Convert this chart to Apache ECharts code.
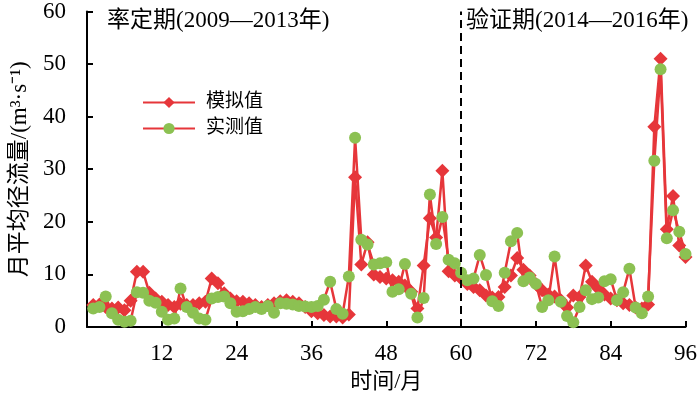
<!DOCTYPE html>
<html>
<head>
<meta charset="utf-8">
<script src="https://cdn.jsdelivr.net/npm/echarts/dist/echarts.min.js"></script>
<style>
html,body{margin:0;padding:0;background:#fff;}
#chart{width:700px;height:398px;}
</style>
</head>
<body>
<div id="chart"></div>
<script>
const months = [1,2,3,4,5,6,7,8,9,10,11,12,13,14,15,16,17,18,19,20,21,22,23,24,
  25,26,27,28,29,30,31,32,33,34,35,36,37,38,39,40,41,42,43,44,45,46,47,48,
  49,50,51,52,53,54,55,56,57,58,59,60,61,62,63,64,65,66,67,68,69,70,71,72,
  73,74,75,76,77,78,79,80,81,82,83,84,85,86,87,88,89,90,91,92,93,94,95,96];

const simulated = [4.2,4.3,3.8,3.5,3.7,3.2,5.0,10.5,10.5,6.5,5.4,4.8,4.2,3.8,4.4,4.2,
  4.2,4.5,4.8,9.2,8.3,6.4,5.4,4.9,4.8,4.5,4.2,3.8,4.2,4.5,4.9,5.1,
  4.8,4.5,3.8,3.0,2.6,2.3,2.0,2.0,1.8,2.4,28.5,11.9,16.1,10.0,9.5,9.2,
  8.9,8.6,7.9,6.7,3.5,11.7,20.7,17.0,29.7,10.6,9.8,9.2,8.2,7.6,7.0,6.0,
  5.6,5.7,7.6,9.8,13.1,10.9,9.8,8.2,7.0,6.2,5.8,5.1,3.7,6.0,5.7,11.7,
  8.6,7.3,6.2,5.4,5.1,4.5,4.2,3.7,3.5,4.3,38.1,51.0,18.6,24.9,15.5,13.3];

const observed = [3.5,3.8,5.8,2.6,1.4,1.0,1.2,6.6,6.5,5.0,4.6,2.9,1.4,1.6,7.3,3.8,
  2.7,1.6,1.4,5.4,5.7,5.8,4.5,2.9,3.0,3.4,3.8,3.4,4.0,2.7,4.5,4.4,
  4.3,4.0,3.9,3.8,4.0,5.2,8.6,3.4,2.5,9.6,36.0,16.6,15.7,11.9,12.1,12.3,
  6.7,7.2,12.0,6.3,1.8,5.5,25.2,15.8,20.9,12.8,12.1,10.3,8.9,9.2,13.7,9.9,
  4.9,4.0,10.3,16.3,17.9,8.7,9.4,8.2,3.8,5.1,13.4,4.8,2.1,0.9,3.8,7.0,
  5.3,5.6,8.7,9.1,5.1,6.6,11.1,3.7,2.6,5.8,31.6,49.0,16.9,22.2,18.1,13.9];

const xTicks = [12,24,36,48,60,72,84,96];
const yTicks = [0,10,20,30,40,50,60];
const seriesNames = ['模拟值','实测值'];
const splitMonth = 60;
const periodLabels = ['率定期(2009—2013年)','验证期(2014—2016年)'];
const xName = '时间/月';
const yName = '月平均径流量/(m³·s⁻¹)';

const RED = '#e6363a';
const GREEN = '#8cc152';
const serif = '"Liberation Serif","Noto Sans CJK SC",serif';

const chart = echarts.init(document.getElementById('chart'), null, {renderer:'canvas'});
const pair = arr => months.map((m,i)=>[m, arr[i]]);

chart.setOption({
  animation:false,
  backgroundColor:'#fff',
  grid:{left:86,right:14,top:9,bottom:71,containLabel:false},
  legend:{
    orient:'vertical', left:137, top:88, itemWidth:52, itemHeight:14, itemGap:7,
    data:seriesNames,
    textStyle:{fontFamily:serif,fontSize:19,color:'#000',padding:[0,0,0,6]}
  },
  xAxis:{
    type:'value', min:0, max:xTicks[xTicks.length-1], interval:12,
    name:xName, nameLocation:'middle', nameGap:44,
    nameTextStyle:{fontFamily:serif,fontSize:22,color:'#000'},
    axisLine:{lineStyle:{color:'#000',width:2}},
    axisTick:{inside:true,length:6,lineStyle:{color:'#000',width:2}},
    axisLabel:{fontFamily:serif,fontSize:23,color:'#000',margin:15,
      formatter:v=> xTicks.indexOf(v)>=0 ? String(v) : ''},
    splitLine:{show:false}
  },
  yAxis:{
    type:'value', min:yTicks[0], max:yTicks[yTicks.length-1], interval:10,
    name:yName, nameLocation:'middle', nameGap:56, nameRotate:90,
    nameTextStyle:{fontFamily:serif,fontSize:23,color:'#000'},
    axisLine:{show:true,lineStyle:{color:'#000',width:2}},
    axisTick:{show:true,inside:true,length:6,lineStyle:{color:'#000',width:2}},
    axisLabel:{fontFamily:serif,fontSize:23,color:'#000',margin:21},
    splitLine:{show:false}
  },
  graphic:[
    {type:'text',left:107,top:9,style:{text:periodLabels[0],font:'23px '+serif,fill:'#000'}},
    {type:'text',left:466,top:9,style:{text:periodLabels[1],font:'23px '+serif,fill:'#000'}}
  ],
  series:[
    {
      name:seriesNames[0], type:'line', data:pair(simulated),
      symbol:'diamond', symbolSize:14, showAllSymbol:true,
      lineStyle:{color:RED,width:2.5}, itemStyle:{color:RED},
      z:2,
      markLine:{
        silent:true, symbol:'none', label:{show:false},
        lineStyle:{color:'#000',type:[8,5],width:2},
        data:[{xAxis:splitMonth}]
      }
    },
    {
      name:seriesNames[1], type:'line', data:pair(observed),
      symbol:'circle', symbolSize:12, showAllSymbol:true,
      lineStyle:{color:RED,width:2.5}, itemStyle:{color:GREEN},
      z:3
    }
  ]
});
</script>
</body>
</html>
